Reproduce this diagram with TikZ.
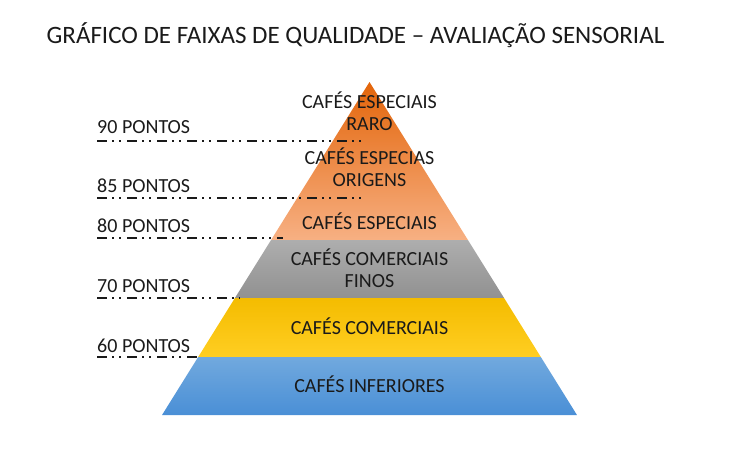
\documentclass[tikz,border=0pt]{standalone}
\usepackage{fontspec}
\setmainfont{Carlito}
\definecolor{laranjaA}{HTML}{E3650A}
\definecolor{laranjaM}{HTML}{EE7E32}
\definecolor{laranjaB}{HTML}{F7B083}
\definecolor{cinzaA}{HTML}{AEAEAE}
\definecolor{cinzaB}{HTML}{919191}
\definecolor{amareloA}{HTML}{F4BC00}
\definecolor{amareloB}{HTML}{FFCE22}
\definecolor{azulA}{HTML}{71A9DE}
\definecolor{azulB}{HTML}{4A8FD6}
\definecolor{texto}{HTML}{1A1A1A}
\begin{document}
\begin{tikzpicture}[x=1pt,y=-1pt,
  faixa/.style={font=\fontsize{20}{22}\selectfont,align=center,text=texto},
  pontos/.style={font=\fontsize{20}{22}\selectfont,anchor=base west,inner sep=0pt,text=texto},
  linha/.style={line width=2pt,texto,dash pattern=on 10pt off 5pt on 2pt off 5pt on 2pt off 6pt}]
\useasboundingbox (0,0) rectangle (734,450);
\def\cx{369.5}
\def\topo{82}
\def\k{.623}

% faixas da piramide
\shade[top color=laranjaA,middle color=laranjaM,bottom color=laranjaB] (\cx,\topo)
  -- ({\cx+\k*(240-\topo)},240) -- ({\cx-\k*(240-\topo)},240) -- cycle;
\foreach \ya/\yb/\ca/\cb in {240/298/cinzaA/cinzaB,298/357/amareloA/amareloB,357/415/azulA/azulB}{
  \shade[top color=\ca,bottom color=\cb] ({\cx-\k*(\ya-\topo)},\ya) -- ({\cx+\k*(\ya-\topo)},\ya)
    -- ({\cx+\k*(\yb-\topo)},\yb) -- ({\cx-\k*(\yb-\topo)},\yb) -- cycle;
}

\node[font=\fontsize{25}{30}\selectfont,anchor=base,text=texto] (titulo) at (355.5,43) {GRÁFICO DE FAIXAS DE QUALIDADE – AVALIAÇÃO SENSORIAL};

\node[faixa] (raro) at (\cx,111) {CAFÉS ESPECIAIS\\RARO};
\node[faixa] (origens) at (\cx,167) {CAFÉS ESPECIAS\\ORIGENS};
\node[faixa] (especiais) at (\cx,221) {CAFÉS ESPECIAIS};
\node[faixa] (finos) at (\cx,268) {CAFÉS COMERCIAIS\\FINOS};
\node[faixa] (comerciais) at (\cx,326) {CAFÉS COMERCIAIS};
\node[faixa] (inferiores) at (\cx,384) {CAFÉS INFERIORES};

% pontuacao
\foreach \pts/\yb/\yl/\xf in {90/133/141/363,85/192/198/363,80/232/238/283,70/292/298/240,60/352/357/200}{
  \node[pontos] (p\pts) at (97,\yb) {\pts{} PONTOS};
  \draw[linha] (97,\yl) -- (\xf,\yl);
}
\end{tikzpicture}
\end{document}
